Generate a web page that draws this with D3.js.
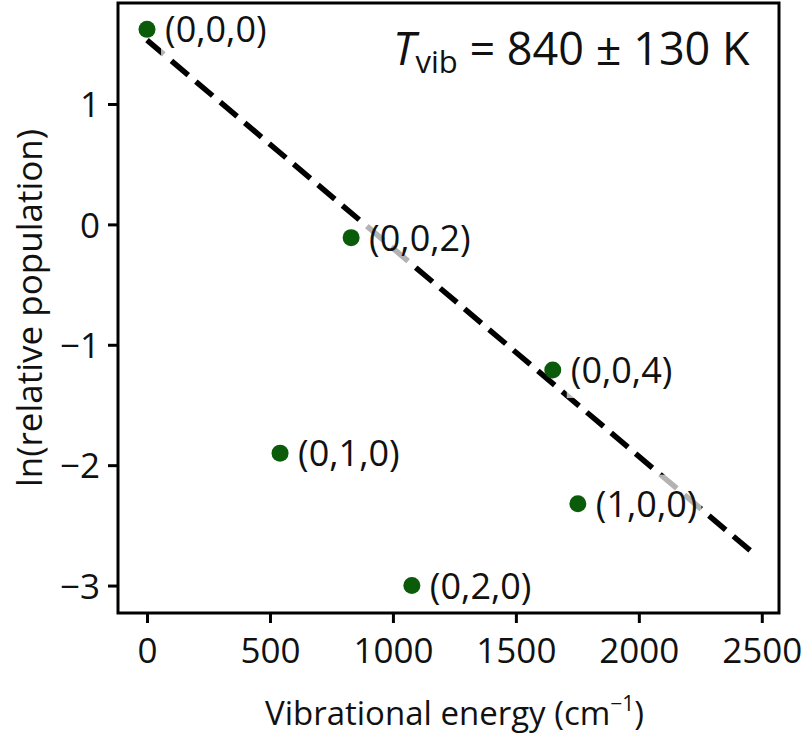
<!DOCTYPE html>
<html lang="en">

<head>
    <meta charset="UTF-8" />
    <title>Vibrational temperature fit</title>
    <script src="https://d3js.org/d3.v7.min.js"></script>
    <style>
        body {
            margin: 0;
            background: #fff;
        }
        
        svg text {
            font-family: "Open Sans", "Noto Sans", sans-serif;
            fill: #111;
        }
    </style>
</head>

<body>
    <div id="chart"></div>

    <script>
        const width = 810;
        const height = 738;
        const marginTop = 3;
        const marginRight = 31;
        const marginBottom = 125;
        const marginLeft = 118;

        // vibrational states (v1,v2,v3)
        const states = ["(0,0,0)", "(0,0,2)", "(0,0,4)", "(0,1,0)", "(1,0,0)", "(0,2,0)"];
        const energies = [0, 830, 1650, 541, 1752, 1077];
        const lnPop = [1.62, -0.11, -1.21, -1.9, -2.32, -3.0];

        // linear fit ln(P) = a - E / (k T), T = 840 K
        const fitE = [0, 2465];
        const fitLn = [1.53, -2.73];

        const xTicks = [0, 500, 1000, 1500, 2000, 2500];
        const yTicks = [-3, -2, -1, 0, 1];

        const x = d3.scaleLinear()
            .domain([-118, 2570])
            .range([marginLeft, width - marginRight]);
        const y = d3.scaleLinear()
            .domain([-3.228, 1.839])
            .range([height - marginBottom, marginTop]);

        const svg = d3.select("#chart")
            .append("svg")
            .attr("width", width)
            .attr("height", height);

        // axes
        const xAxis = d3.axisBottom(x).tickValues(xTicks).tickSize(10).tickPadding(8)
            .tickFormat(d3.format("d"));
        const yAxis = d3.axisLeft(y).tickValues(yTicks).tickSize(10).tickPadding(8)
            .tickFormat(d => d < 0 ? "\u2212" + Math.abs(d) : d);

        const gx = svg.append("g")
            .attr("transform", `translate(0,${height - marginBottom})`)
            .call(xAxis);
        const gy = svg.append("g")
            .attr("transform", `translate(${marginLeft},0)`)
            .call(yAxis);

        [gx, gy].forEach(g => {
            g.select(".domain").remove();
            g.selectAll(".tick line").attr("stroke", "#000").attr("stroke-width", 3);
            g.selectAll(".tick text")
                .attr("font-size", 35)
                .attr("fill", "#111")
                .style("font-family", "'Open Sans', sans-serif");
        });
        gx.selectAll(".tick text").attr("dy", "0.92em");
        gy.selectAll(".tick text").attr("dy", "0.36em");

        // fit line
        svg.append("line")
            .attr("x1", x(fitE[0]))
            .attr("y1", y(fitLn[0]))
            .attr("x2", x(fitE[1]))
            .attr("y2", y(fitLn[1]))
            .attr("stroke", "#000")
            .attr("stroke-width", 5.5)
            .attr("stroke-dasharray", "22,10");

        // points
        const pts = states.map((s, i) => ({ s, e: energies[i], v: lnPop[i] }));

        svg.selectAll("circle.pt")
            .data(pts)
            .join("circle")
            .attr("class", "pt")
            .attr("cx", d => x(d.e))
            .attr("cy", d => y(d.v))
            .attr("r", 8.5)
            .attr("fill", "#0a5c0a");

        // labels with translucent white box
        const labels = svg.selectAll("g.lab")
            .data(pts)
            .join("g")
            .attr("class", "lab")
            .attr("transform", d => `translate(${x(d.e) + 18},${y(d.v)})`);

        labels.each(function(d) {
            const g = d3.select(this);
            const bg = g.append("rect").attr("fill", "#fff").attr("opacity", 0.7);
            const t = g.append("text")
                .attr("font-size", 36)
                .attr("dy", "0.36em")
                .text(d.s);
            const b = t.node().getBBox();
            bg.attr("x", b.x - 4).attr("y", b.y - 4)
                .attr("width", b.width + 8).attr("height", b.height + 8);
        });

        // frame
        svg.append("rect")
            .attr("x", marginLeft)
            .attr("y", marginTop)
            .attr("width", width - marginLeft - marginRight)
            .attr("height", height - marginTop - marginBottom)
            .attr("fill", "none")
            .attr("stroke", "#000")
            .attr("stroke-width", 3);

        // T_vib annotation
        const ann = svg.append("text")
            .attr("x", 393)
            .attr("y", 65)
            .attr("font-size", 45);
        ann.append("tspan").attr("font-style", "italic").text("T");
        ann.append("tspan").attr("font-size", 31).attr("dy", 8).text("vib");
        ann.append("tspan").attr("dy", -8).text(" = 840 \u00b1 130 K");

        // axis titles
        const xl = svg.append("text")
            .attr("x", (marginLeft + width - marginRight) / 2 + 6)
            .attr("y", 725)
            .attr("text-anchor", "middle")
            .attr("font-size", 33);
        xl.append("tspan").text("Vibrational energy (cm");
        xl.append("tspan").attr("font-size", 21).attr("dy", -14).text("\u22121");
        xl.append("tspan").attr("dy", 14).text(")");

        svg.append("text")
            .attr("transform", `translate(42,${(marginTop + height - marginBottom) / 2}) rotate(-90)`)
            .attr("text-anchor", "middle")
            .attr("font-size", 35)
            .text("ln(relative population)");
    </script>
</body>

</html>
